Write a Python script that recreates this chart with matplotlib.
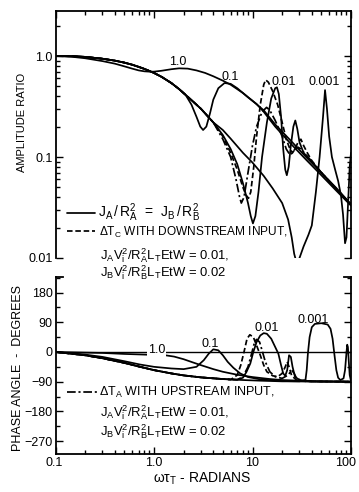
import numpy as np
import matplotlib.pyplot as plt
import matplotlib.transforms as mtransforms
from matplotlib.lines import Line2D
from matplotlib.ticker import FixedLocator, NullFormatter, MultipleLocator, LogLocator

plt.rcParams['font.family'] = ['Liberation Sans', 'DejaVu Sans']
plt.rcParams['mathtext.fontset'] = 'custom'
plt.rcParams['mathtext.rm'] = 'Liberation Sans'
plt.rcParams['mathtext.it'] = 'Liberation Sans'
plt.rcParams['mathtext.default'] = 'rm'

# ---- amplitude ratio curves (omega*tau_T, ratio) ----
w_low = [0.1, 0.15, 0.2, 0.3, 0.4, 0.5, 0.6, 0.7, 0.8, 0.9, 1.0, 1.2, 1.5, 1.8, 2.3, 3.0, 4.0]
r_low = [1.0, 0.995, 0.98, 0.94, 0.90, 0.86, 0.82, 0.78, 0.745, 0.71, 0.68, 0.62, 0.54, 0.47, 0.38, 0.30, 0.22]

amp_10_w = [0.1, 0.15, 0.2, 0.3, 0.4, 0.5, 0.6, 0.7, 0.8, 0.9, 1.0, 1.2, 1.5, 1.8, 2.2, 2.7, 3.3,
            4.0, 5.0, 6.0, 8.0, 10, 13, 17, 24, 35, 50, 70, 100]
amp_10_r = [1.0, 0.98, 0.95, 0.89, 0.84, 0.79, 0.75, 0.72, 0.705, 0.70, 0.70, 0.715, 0.74, 0.755, 0.75,
            0.72, 0.68, 0.63, 0.57, 0.52, 0.43, 0.36, 0.29, 0.21, 0.148, 0.10, 0.07, 0.05, 0.034]

amp_01_w = [0.1, 0.15, 0.2, 0.3, 0.4, 0.5, 0.6, 0.7, 0.8, 0.9, 1.0, 1.2, 1.5, 1.8, 2.1, 2.4, 2.7, 2.95,
            3.15, 3.4, 3.7, 4.0, 4.5, 5.2, 6.0, 7.0, 8.0, 9.0, 10, 11, 13, 17, 24, 35, 50, 70, 100]
amp_01_r = [1.0, 0.995, 0.98, 0.94, 0.90, 0.86, 0.82, 0.78, 0.745, 0.71, 0.68, 0.62, 0.54, 0.47, 0.41,
            0.33, 0.25, 0.20, 0.185, 0.20, 0.27, 0.37, 0.48, 0.54, 0.53, 0.48, 0.43, 0.39, 0.36, 0.335,
            0.28, 0.20, 0.138, 0.094, 0.066, 0.047, 0.033]

amp_0001_w = [5.0, 6.0, 8.0, 10, 13, 16, 20, 23, 25, 26.5, 28, 30, 33, 37, 40, 44, 48, 52, 54.5, 57,
              60, 64, 69, 74, 79, 83, 87, 90, 94, 97, 100]
amp_0001_r = [0.185, 0.152, 0.11, 0.088, 0.065, 0.049, 0.035, 0.024, 0.016, 0.011, 0.009, 0.01,
              0.013, 0.017, 0.021, 0.045, 0.10, 0.25, 0.46, 0.30, 0.16, 0.10, 0.075, 0.058, 0.042,
              0.027, 0.014, 0.016, 0.04, 0.08, 0.11]

amp_001_w = [5.0, 6.0, 7.0, 8.0, 9.0, 9.6, 10.1, 10.7, 11.5, 12.5, 14, 15.5, 17, 17.7, 18.5, 19.5,
             20.5, 21.5, 22.3, 23.3, 24.5, 26, 27.2, 28.5, 30, 33, 40, 50, 70, 100]
amp_001_r = [0.165, 0.12, 0.085, 0.055, 0.035, 0.026, 0.022, 0.026, 0.045, 0.10, 0.22, 0.38, 0.48,
             0.49, 0.42, 0.25, 0.12, 0.075, 0.066, 0.08, 0.13, 0.20, 0.23, 0.19, 0.14, 0.11, 0.09,
             0.07, 0.049, 0.034]

amp_dn_w = [5.0, 6.0, 7.0, 8.0, 8.6, 9.1, 9.6, 10.3, 11, 12, 13, 13.6, 14.5, 16, 18, 20, 22, 24,
            25.5, 27, 29, 31, 33, 36, 40, 50, 70, 100]
amp_dn_r = [0.16, 0.11, 0.075, 0.05, 0.042, 0.039, 0.045, 0.08, 0.16, 0.33, 0.52, 0.58, 0.55, 0.45,
            0.33, 0.22, 0.15, 0.12, 0.11, 0.12, 0.14, 0.15, 0.13, 0.11, 0.092, 0.07, 0.049, 0.034]

amp_up_w = [5.0, 6.0, 6.8, 7.4, 7.7, 8.2, 9.0, 10, 11, 12.5, 13.9, 15, 17, 20, 22, 24, 25.5, 27,
            29, 31, 35, 40, 50, 70, 100]
amp_up_r = [0.15, 0.10, 0.06, 0.04, 0.035, 0.04, 0.07, 0.13, 0.20, 0.28, 0.31, 0.29, 0.23, 0.16,
            0.12, 0.105, 0.11, 0.12, 0.125, 0.12, 0.105, 0.09, 0.07, 0.049, 0.034]

# ---- phase angle curves (omega*tau_T, degrees) ----
p_low_w = [0.1, 0.2, 0.3, 0.5, 0.7, 1.0, 1.5, 2.0, 3.0, 5.0]
p_low_d = [0, -10, -19, -33, -44, -55, -65, -71, -77, -82]

ph_10_w = [0.1, 0.2, 0.3, 0.5, 0.8, 1.0, 1.3, 1.6, 2.0, 2.5, 3.0, 4.0, 5.0, 7.0, 10, 15, 20, 30, 50, 100]
ph_10_d = [0, -2, -3, -6, -8, -9, -10, -14, -22, -32, -40, -52, -60, -69, -76, -82, -85, -87, -89, -90]

ph_01_w = [0.1, 0.2, 0.3, 0.5, 0.72, 1.0, 1.5, 2.0, 2.7, 3.2, 3.6, 4.0, 4.5, 5.0, 5.6, 6.4, 7.5,
           9, 12, 20, 40, 100]
ph_01_d = [0, -8, -15, -28, -38, -45, -50, -52, -45, -25, -5, 8, 5, -10, -30, -48, -65, -76, -83,
           -88, -90, -90]

ph_0001_w = [8.0, 12, 20, 30, 34.5, 35.5, 36.5, 38, 40, 43, 50, 58, 62, 65, 68, 71, 74, 78, 84, 87,
             89.5, 91.5, 93, 95, 97, 100]
ph_0001_d = [-85, -87, -89, -89, -85, -55, -5, 45, 75, 85, 87, 83, 70, 40, -10, -55, -78, -85, -80,
             -55, -10, 22, 15, -30, -70, -88]

ph_001_w = [7, 8, 8.7, 9.5, 10.2, 11, 12, 13, 14, 15.5, 17, 18.3, 19.5, 20.5, 21.5, 22.5, 23.5,
            24.5, 25.5, 27, 30, 40, 100]
ph_001_d = [-84, -78, -60, -35, 0, 30, 50, 57, 55, 40, 15, -5, -40, -65, -72, -55, -10, -15, -45,
            -75, -85, -89, -90]

ph_dn_w = [6, 7, 7.6, 8.2, 8.8, 9.4, 10.2, 11, 12, 13, 14, 16, 18, 20, 21.5, 22.5, 23.5, 25, 28, 35, 100]
ph_dn_d = [-84, -70, -40, 0, 40, 52, 45, 20, -10, -40, -60, -72, -75, -65, -45, -30, -45, -72, -85,
           -89, -90]

ph_up_w = [7, 8, 9, 9.8, 10.5, 11, 11.8, 12.5, 13.5, 15, 17, 20, 23, 25, 26.5, 28, 32, 40, 100]
ph_up_d = [-84, -75, -45, -5, 30, 38, 30, 5, -30, -60, -75, -80, -70, -55, -65, -80, -87, -89, -90]

W, H = 359, 492
fig = plt.figure(figsize=(W / 100, H / 100), dpi=100)
fig.patch.set_facecolor('white')

def fx(px):
    return px / W

def fy(py):
    return 1 - py / H

ax1 = fig.add_axes([fx(55.5), fy(258), fx(351) - fx(55.5), (258 - 11) / H])
ax2 = fig.add_axes([fx(55.5), fy(454), fx(351) - fx(55.5), (454 - 277) / H])

lw = 1.25
solid = dict(color='black', lw=lw, solid_capstyle='round')
dashed = dict(color='black', lw=lw, linestyle=(0, (3.2, 1.6)))
dashdot = dict(color='black', lw=lw, linestyle=(0, (5, 1.6, 1.2, 1.6)))

# amplitude panel
ax1.plot(amp_10_w, amp_10_r, **solid)
ax1.plot(amp_01_w, amp_01_r, **solid)
ax1.plot(w_low + amp_0001_w, r_low + amp_0001_r, **solid)
ax1.plot(w_low + amp_001_w, r_low + amp_001_r, **solid)
ax1.plot(w_low + amp_dn_w, r_low + amp_dn_r, **dashed)
ax1.plot(w_low + amp_up_w, r_low + amp_up_r, **dashdot)

# phase panel
ax2.axhline(0, color='black', lw=1.0)
ax2.plot(ph_10_w, ph_10_d, **solid)
ax2.plot(ph_01_w, ph_01_d, **solid)
ax2.plot(p_low_w + ph_0001_w, p_low_d + ph_0001_d, **solid)
ax2.plot(p_low_w + ph_001_w, p_low_d + ph_001_d, **solid)
ax2.plot(p_low_w + ph_dn_w, p_low_d + ph_dn_d, **dashed)
ax2.plot(p_low_w + ph_up_w, p_low_d + ph_up_d, **dashdot)

fs = 9
for ax in (ax1, ax2):
    ax.set_xscale('log')
    ax.set_xlim(0.1, 100)
    for s in ax.spines.values():
        s.set_linewidth(1.3)
    ax.xaxis.set_minor_locator(LogLocator(base=10, subs=np.arange(2, 10)))
    ax.xaxis.set_minor_formatter(NullFormatter())
    ax.tick_params(which='both', direction='in', width=1.0, labelsize=fs, pad=2)
    ax.tick_params(which='major', length=5)
    ax.tick_params(which='minor', length=3)

ax1.set_yscale('log')
ax1.set_ylim(0.01, 2.79)
ax1.yaxis.set_major_locator(FixedLocator([0.01, 0.1, 1.0]))
ax1.set_yticklabels(['0.01', '0.1', '1.0'])
ax1.yaxis.set_minor_locator(LogLocator(base=10, subs=np.arange(2, 10)))
ax1.yaxis.set_minor_formatter(NullFormatter())
ax1.spines['bottom'].set_visible(False)
ax1.tick_params(which='both', top=True, bottom=False, left=True, right=True, labelbottom=False)

ax2.set_ylim(-309, 227)
ax2.set_yticks([-270, -180, -90, 0, 90, 180])
ax2.set_yticklabels(['\u2212270', '\u2212180', '\u221290', '0', '90', '180'])
ax2.yaxis.set_minor_locator(MultipleLocator(45))
ax2.set_xticks([0.1, 1, 10, 100])
ax2.set_xticklabels(['0.1', '1.0', '10', '100'])
ax2.spines['top'].set_visible(False)
ax2.tick_params(which='both', top=False, bottom=True, left=True, right=True)
for xs in ([0, 0.025], [0.975, 1]):
    ax2.plot(xs, [1, 1], color='black', lw=1.3, transform=ax2.transAxes, clip_on=False)

# pull the end labels slightly inward so they stay on the canvas
xlabels = ax2.get_xticklabels()
xlabels[-1].set_transform(xlabels[-1].get_transform() +
                          mtransforms.ScaledTranslation(-5 / 100, 0, fig.dpi_scale_trans))
xlabels[0].set_transform(xlabels[0].get_transform() +
                         mtransforms.ScaledTranslation(-1 / 100, 0, fig.dpi_scale_trans))

# curve labels
ax1.text(1.75, 0.87, '1.0', fontsize=fs, ha='center', va='center')
ax1.text(5.9, 0.62, '0.1', fontsize=fs, ha='center', va='center')
ax1.text(20.5, 0.55, '0.01', fontsize=fs, ha='center', va='center')
ax1.text(53, 0.55, '0.001', fontsize=fs, ha='center', va='center')

ax2.text(1.06, 5, '1.0', fontsize=fs, ha='center', va='center',
         bbox=dict(facecolor='white', edgecolor='none', pad=0.5))
ax2.text(3.7, 25, '0.1', fontsize=fs, ha='center', va='center')
ax2.text(13.9, 74, '0.01', fontsize=fs, ha='center', va='center')
ax2.text(41.6, 98, '0.001', fontsize=fs, ha='center', va='center')

# axis titles
fig.text(fx(22), fy(122), 'AMPLITUDE RATIO', rotation=90, fontsize=8, ha='center', va='center')
fig.text(fx(18), fy(368), 'PHASE ANGLE  -  DEGREES', rotation=90, fontsize=9, ha='center', va='center')
fig.text(fx(202), fy(479), '\u03c9\u03c4$_T$ - RADIANS', fontsize=10, ha='center', va='center')

# legend-like annotations
fig.add_artist(Line2D([fx(67), fx(95)], [fy(213), fy(213)], transform=fig.transFigure, **solid))
fig.add_artist(Line2D([fx(67), fx(95)], [fy(231), fy(231)], transform=fig.transFigure, **dashed))
fig.add_artist(Line2D([fx(67), fx(97)], [fy(392), fy(392)], transform=fig.transFigure, **dashdot))

fig.text(fx(98), fy(213), '$J_A\\,/\\,R_A^2$  =  $J_B\\,/\\,R_B^2$', fontsize=10, va='center')
fig.text(fx(99), fy(232), '\u0394T$_C$ WITH DOWNSTREAM INPUT,', fontsize=8.6, va='center')
fig.text(fx(100), fy(256), '$J_AV_i^2/R_A^2L_TEtW$ = 0.01,', fontsize=9.4, va='center')
fig.text(fx(100), fy(273), '$J_BV_i^2/R_B^2L_TEtW$ = 0.02', fontsize=9.4, va='center')

fig.text(fx(99), fy(392), '\u0394T$_A$ WITH UPSTREAM INPUT,', fontsize=fs, va='center')
fig.text(fx(100), fy(413), '$J_AV_i^2/R_A^2L_TEtW$ = 0.01,', fontsize=9.4, va='center')
fig.text(fx(100), fy(432), '$J_BV_i^2/R_B^2L_TEtW$ = 0.02', fontsize=9.4, va='center')

fig.savefig('out.png', dpi=100, facecolor='white')
